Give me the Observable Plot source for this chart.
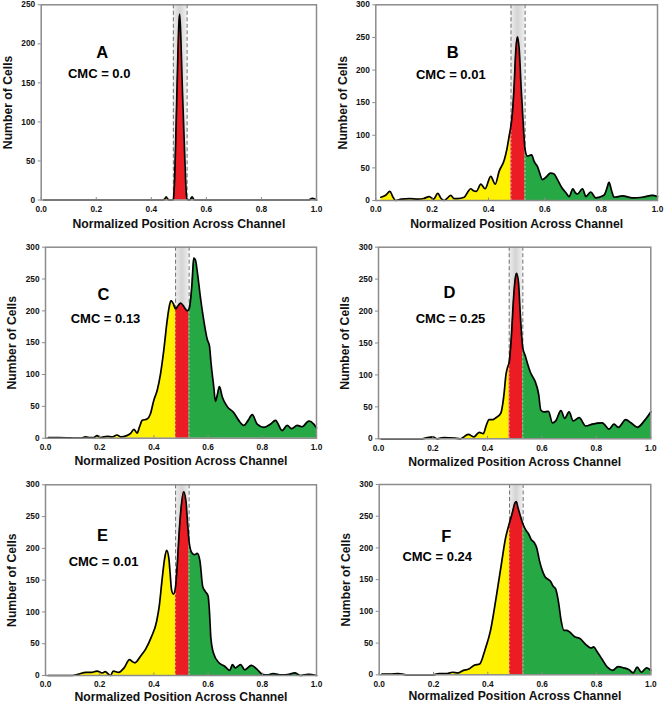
<!DOCTYPE html>
<html><head><meta charset="utf-8">
<script src="https://cdn.jsdelivr.net/npm/d3@7"></script>
<script src="https://cdn.jsdelivr.net/npm/@observablehq/plot@0.6"></script>
<style>
body{margin:0;background:#fff}
#wrap{position:relative;width:664px;height:704px;overflow:hidden}
#wrap svg{position:absolute}
</style>
</head><body><div id="wrap"></div>
<script>
// ---------------- data ----------------
const panelLetters = ["A", "B", "C", "D", "E", "F"];
const cmcValues = ["0.0", "0.01", "0.13", "0.25", "0.01", "0.24"];
const yMaxValues = [250, 300, 300, 300, 300, 300];
const xTicks = [0, 0.2, 0.4, 0.6, 0.8, 1.0];
const bandEdges = [0.48, 0.53];
const xTitle = "Normalized Position Across Channel";
const yTitle = "Number of Cells";

const curveA = [[0.01,0],[0.1,0],[0.2,0],[0.3,0],[0.4,0],[0.44,0],[0.448,1],[0.454,4],[0.46,1],[0.468,0],[0.476,0],[0.48,1],[0.485,30],[0.49,95],[0.495,165],[0.5,225],[0.503,238],[0.507,210],[0.512,150],[0.517,100],[0.522,50],[0.527,8],[0.53,1],[0.54,0],[0.548,4],[0.556,0],[0.7,0],[0.9,0],[0.97,0],[0.985,2],[0.995,1],[1.0,0]];
const curveB = [[0.018,5],[0.035,8],[0.05,14],[0.06,6],[0.07,0],[0.09,2],[0.12,3],[0.15,2],[0.17,3],[0.19,6],[0.205,2],[0.22,11],[0.232,3],[0.243,0],[0.255,4],[0.266,8],[0.278,3],[0.29,3],[0.314,5],[0.325,12],[0.337,18],[0.347,15],[0.357,14],[0.373,25],[0.388,18],[0.408,37],[0.424,25],[0.438,45],[0.456,62],[0.466,80],[0.474,100],[0.48,115],[0.485,135],[0.491,175],[0.497,230],[0.503,251],[0.509,232],[0.516,172],[0.523,120],[0.53,78],[0.538,68],[0.553,70],[0.562,60],[0.574,52],[0.592,32],[0.605,36],[0.62,42],[0.632,41],[0.645,32],[0.66,20],[0.675,12],[0.686,6],[0.7,18],[0.708,12],[0.716,10],[0.734,18],[0.746,6],[0.763,13],[0.781,4],[0.81,8],[0.82,18],[0.828,28],[0.837,15],[0.846,5],[0.876,7],[0.911,4],[0.947,5],[0.982,8],[1.0,6]];
const curveC = [[0.01,1],[0.05,1],[0.13,0],[0.148,2],[0.165,1],[0.178,1],[0.19,4],[0.203,1],[0.228,3],[0.246,2],[0.264,5],[0.277,2],[0.3,4],[0.315,8],[0.326,14],[0.338,8],[0.347,18],[0.357,28],[0.375,30],[0.387,38],[0.4,60],[0.412,75],[0.424,100],[0.437,140],[0.449,185],[0.456,205],[0.463,216],[0.471,212],[0.48,203],[0.486,206],[0.498,212],[0.505,210],[0.513,205],[0.523,200],[0.53,203],[0.536,220],[0.541,245],[0.547,283],[0.553,280],[0.562,255],[0.572,220],[0.584,185],[0.597,155],[0.605,145],[0.611,117],[0.621,80],[0.627,58],[0.634,68],[0.642,81],[0.652,65],[0.67,50],[0.695,40],[0.713,28],[0.732,20],[0.748,28],[0.763,37],[0.781,22],[0.806,17],[0.83,22],[0.849,28],[0.873,12],[0.892,20],[0.908,15],[0.929,20],[0.947,18],[0.972,27],[0.99,22],[1.0,16]];
const curveD = [[0.01,0],[0.16,0],[0.18,2],[0.2,3],[0.215,0],[0.24,2],[0.28,1],[0.3,0],[0.33,7],[0.35,3],[0.37,10],[0.385,8],[0.395,20],[0.406,30],[0.419,30],[0.431,33],[0.449,40],[0.461,70],[0.468,100],[0.474,112],[0.48,120],[0.488,160],[0.496,220],[0.502,250],[0.507,259],[0.514,245],[0.52,200],[0.526,160],[0.53,142],[0.539,130],[0.547,118],[0.557,105],[0.565,98],[0.575,90],[0.588,70],[0.596,45],[0.608,42],[0.624,43],[0.639,25],[0.651,28],[0.67,44],[0.684,32],[0.7,42],[0.715,28],[0.737,33],[0.761,20],[0.786,23],[0.822,25],[0.847,15],[0.865,23],[0.881,18],[0.908,30],[0.927,25],[0.951,18],[0.976,28],[1.0,42]];
const curveE = [[0.01,0],[0.1,0],[0.12,2],[0.15,5],[0.17,5],[0.19,7],[0.21,4],[0.22,6],[0.24,0],[0.25,7],[0.27,5],[0.29,12],[0.31,25],[0.32,22],[0.33,20],[0.35,30],[0.37,42],[0.39,60],[0.41,85],[0.42,110],[0.43,150],[0.44,185],[0.447,197],[0.455,185],[0.46,160],[0.465,135],[0.472,128],[0.48,140],[0.487,180],[0.494,230],[0.5,262],[0.51,289],[0.518,275],[0.525,235],[0.53,210],[0.54,193],[0.55,190],[0.56,192],[0.57,180],[0.58,140],[0.59,132],[0.6,125],[0.605,100],[0.61,60],[0.62,35],[0.64,20],[0.66,15],[0.68,8],[0.69,17],[0.7,12],[0.72,17],[0.735,9],[0.76,16],[0.78,10],[0.8,2],[0.82,1],[0.84,3],[0.87,1],[0.9,2],[0.92,4],[0.94,0],[0.97,2],[1.0,0]];
const curveF = [[0.01,1],[0.04,1],[0.07,2],[0.1,0],[0.2,0],[0.22,2],[0.25,2],[0.27,4],[0.29,3],[0.31,7],[0.33,9],[0.35,15],[0.37,17],[0.39,40],[0.41,70],[0.43,120],[0.45,175],[0.465,215],[0.48,240],[0.49,255],[0.5,271],[0.505,273],[0.51,265],[0.52,250],[0.53,237],[0.54,228],[0.55,222],[0.56,213],[0.57,209],[0.58,200],[0.59,180],[0.6,165],[0.61,155],[0.62,151],[0.63,148],[0.64,140],[0.65,135],[0.66,115],[0.67,85],[0.68,70],[0.69,70],[0.7,68],[0.72,60],[0.74,57],[0.76,48],[0.78,42],[0.79,44],[0.8,38],[0.82,25],[0.84,12],[0.86,7],[0.88,13],[0.9,11],[0.92,8],[0.935,3],[0.95,12],[0.965,4],[0.985,11],[1.0,7]];
const curves = [curveA, curveB, curveC, curveD, curveE, curveF];

// ---------------- layout (pixels) ----------------
const layout = [
  {left:0,   top:0,   mL:40.7, mR:16,   mT:4.3,  fB:199.5, tDy:24,   letter:[61,48], cmc:[58,69]},
  {left:332, top:0,   mL:43.3, mR:7,    mT:4.3,  fB:200,   tDy:24,   letter:[77,48], cmc:[75,70]},
  {left:0,   top:230, mL:45,   mR:16,   mT:16.7, fB:437.7, tDy:23,   letter:[58,48], cmc:[60,71.5]},
  {left:332, top:230, mL:46,   mR:13.7, mT:16.7, fB:438.3, tDy:23,   letter:[71,46], cmc:[72,71.5]},
  {left:0,   top:465, mL:45,   mR:16,   mT:19.3, fB:675,   tDy:21.5, letter:[57,51], cmc:[58,77.5]},
  {left:332, top:465, mL:46.7, mR:13.7, mT:19,   fB:674.3, tDy:21.5, letter:[67,52], cmc:[58,72]}
];

const FONT = "'Liberation Sans', Arial, Helvetica, sans-serif";
const wrap = document.getElementById("wrap");

curves.forEach((curve, i) => {
  const L = layout[i];
  const yMax = yMaxValues[i];
  const yTicks = d3.range(0, yMax + 1, 50);
  const height = L.fB - L.top + 30;
  const gid = "bandGrad" + i;
  const [lo, hi] = bandEdges;
  const yellow = curve.filter(d => d[0] <= lo);
  const red = curve.filter(d => d[0] >= lo && d[0] <= hi);
  const green = curve.filter(d => d[0] >= hi);
  const edges = curve.filter(d => d[0] === lo || d[0] === hi);

  const defsMark = () => {
    const ns = "http://www.w3.org/2000/svg";
    const defs = document.createElementNS(ns, "defs");
    const g = document.createElementNS(ns, "linearGradient");
    g.setAttribute("id", gid);
    g.setAttribute("x1", "0"); g.setAttribute("x2", "1");
    g.setAttribute("y1", "0"); g.setAttribute("y2", "0");
    [["0%", "#eeeeee"], ["50%", "#d4d4d4"], ["100%", "#eeeeee"]].forEach(([o, c]) => {
      const s = document.createElementNS(ns, "stop");
      s.setAttribute("offset", o); s.setAttribute("stop-color", c);
      g.appendChild(s);
    });
    defs.appendChild(g);
    return defs;
  };

  const svg = Plot.plot({
    width: 332,
    height,
    marginLeft: L.mL,
    marginRight: L.mR,
    marginTop: L.mT,
    marginBottom: 30,
    style: {fontFamily: FONT, overflow: "visible", background: "transparent"},
    x: {domain: [0, 1], nice: false},
    y: {domain: [0, yMax], nice: false},
    marks: [
      defsMark,
      Plot.rectX([bandEdges], {x1: d => d[0], x2: d => d[1], y1: 0, y2: yMax, fill: `url(#${gid})`}),
      Plot.ruleX(bandEdges, {stroke: "#6e6e6e", strokeWidth: 1, strokeDasharray: "4,2.5"}),
      Plot.areaY(yellow, {x: d => d[0], y: d => d[1], fill: "#fff200", curve: "monotone-x"}),
      Plot.areaY(red, {x: d => d[0], y: d => d[1], fill: "#ec1c24", curve: "monotone-x"}),
      Plot.areaY(green, {x: d => d[0], y: d => d[1], fill: "#26a844", curve: "monotone-x"}),
      Plot.ruleX(edges, {x: d => d[0], y1: 0, y2: d => d[1], stroke: "#ffffff", strokeOpacity: 0.6, strokeWidth: 0.8, strokeDasharray: "2,2"}),
      Plot.line(curve, {x: d => d[0], y: d => d[1], stroke: "#000", strokeWidth: 1.7, curve: "monotone-x"}),
      Plot.frame({stroke: "#8c8c8c", strokeWidth: 1.5}),
      Plot.axisY({ticks: yTicks, tickSize: 3, tickPadding: 3, stroke: "#8c8c8c", fontSize: 8.3, fontWeight: "bold", fill: "#111", label: null}),
      Plot.axisX({ticks: xTicks, tickSize: -2.5, tickPadding: 8.5, stroke: "#8c8c8c", tickFormat: d3.format(".1f"), fontSize: 8.3, fontWeight: "bold", fill: "#111", label: null}),
      Plot.text([xTitle], {text: d => d, frameAnchor: "bottom", dy: L.tDy, textAnchor: "middle", lineAnchor: "middle", fontSize: 12.2, fontWeight: "bold", fill: "#111"}),
      Plot.text([yTitle], {text: d => d, frameAnchor: "left", dx: -33, rotate: -90, textAnchor: "middle", lineAnchor: "middle", fontSize: 12.2, fontWeight: "bold", fill: "#111"}),
      Plot.text([panelLetters[i]], {text: d => d, frameAnchor: "top-left", dx: L.letter[0], dy: L.letter[1], textAnchor: "middle", lineAnchor: "middle", fontSize: 16.5, fontWeight: "bold", fill: "#000"}),
      Plot.text([`CMC = ${cmcValues[i]}`], {text: d => d, frameAnchor: "top-left", dx: L.cmc[0], dy: L.cmc[1], textAnchor: "middle", lineAnchor: "middle", fontSize: 13, fontWeight: "bold", fill: "#000"})
    ]
  });
  svg.style.left = L.left + "px";
  svg.style.top = L.top + "px";
  wrap.appendChild(svg);
});
</script>
</body></html>
